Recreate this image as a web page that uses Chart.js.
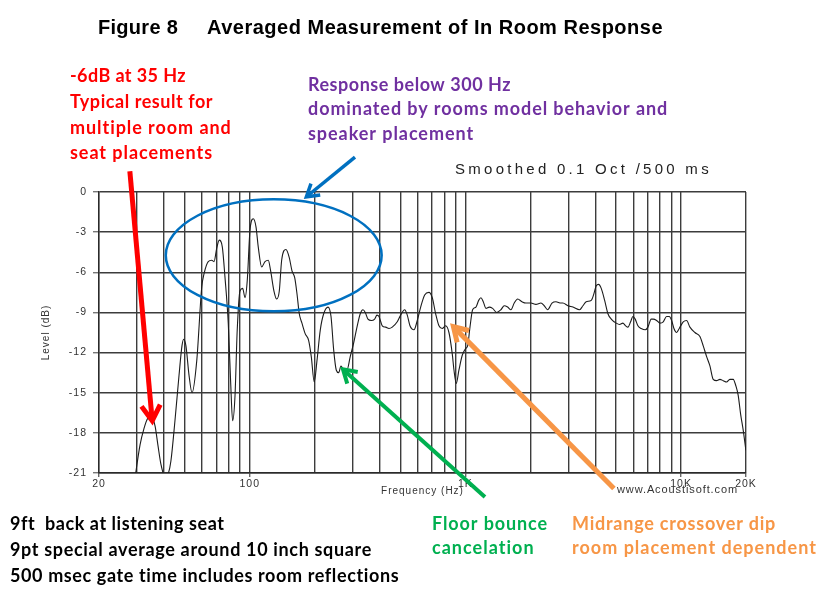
<!DOCTYPE html>
<html>
<head>
<meta charset="utf-8">
<script src="https://cdn.jsdelivr.net/npm/chart.js@4.4.0/dist/chart.umd.min.js"></script>
<style>
html, body { margin: 0; padding: 0; background: #fff; }
#contenedor { width: 830px; height: 602px; position: relative; }
</style>
</head>
<body>
<div id="contenedor"><canvas id="grafica"></canvas></div>
<script>
//datos (frecuencia en Hz, nivel en dB)

const frecuencias = [
    29, 31, 32.3, 33.7, 35, 36.4, 37.5, 38.8, 40.5, 41.8,
    43.1, 45, 47, 48.5, 49.4, 50.6, 52.3, 54, 56.8, 59.9,
    61.4, 64.2, 66.6, 68.3, 70.3, 72.2, 74.6, 76.8, 79.5, 81.6,
    83.3, 85.4, 87.5, 90.1, 92.7, 95.1, 97.4, 100.2, 103.8, 106.9,
    109.5, 113.6, 117.7, 121.9, 125, 129.5, 133.3, 137.1, 140.6, 147.2,
    152.5, 157, 161.6, 165.6, 169.7, 174.6, 180.9, 187.6, 192.9, 199.1,
    205, 212.4, 220.2, 230.6, 238.1, 245, 251.8, 258.4, 264.9, 272.7,
    282.4, 292.4, 303.2, 314.2, 325.4, 335, 343.3, 353.3, 366, 379.4,
    389, 397.4, 411.7, 427, 442.2, 458, 483, 500.9, 522.8, 537.5,
    553.3, 577.4, 598.2, 620.2, 647.2, 677.6, 702, 727.8, 754, 781,
    809.8, 838.8, 869, 885, 907, 933.4, 966.8, 1002, 1024, 1050,
    1080, 1119, 1152, 1180, 1210, 1245, 1290, 1337, 1396, 1461,
    1514, 1570, 1626, 1684, 1747, 1829, 1908, 2013, 2124, 2240,
    2320, 2406, 2520, 2630, 2774, 2832, 2988, 3152, 3386, 3506,
    3632, 3832, 3944, 4042, 4146, 4264, 4422, 4580, 4744, 5004,
    5188, 5374, 5532, 5670, 5834, 5980, 6128, 6308, 6534, 6820,
    7018, 7270, 7428, 7704, 7980, 8266, 8570, 8812, 9040, 9266,
    9536, 9804, 10232, 10610, 10990, 11592, 12228, 12668, 13134, 13606,
    14092, 14614, 15138, 15680, 16256, 16842, 17446, 17960, 18402, 18882,
    19412, 19976
];

const niveles = [
    -22, -18.9, -17.7, -16.9, -16.8, -17.5, -18.9, -20.4, -21.3, -21.1,
    -20.1, -17.1, -13.7, -11.5, -11.0, -11.5, -13.7, -15.0, -12.6, -7.1,
    -6.1, -5.2, -5.1, -5.2, -4.2, -3.6, -4.1, -6.4, -9.8, -14.3,
    -17.1, -15.3, -10.3, -7.4, -7.2, -7.9, -6.6, -2.9, -2.0, -2.6,
    -4.1, -5.6, -5.2, -5.1, -5.9, -7.4, -8.0, -7.4, -5.1, -4.3,
    -4.9, -5.9, -6.4, -7.6, -9.1, -9.8, -10.6, -11.1, -12.3, -14.2,
    -12.6, -10.3, -9.1, -8.6, -9.3, -11.8, -13.3, -13.5, -13.0, -13.3,
    -13.3, -12.3, -11.3, -10.1, -9.1, -8.8, -9.0, -9.5, -9.6, -9.5,
    -9.2, -9.3, -10.0, -10.1, -10.2, -10.1, -9.7, -9.2, -8.8, -9.2,
    -10.0, -10.3, -9.6, -8.6, -7.7, -7.5, -7.9, -9.1, -10.0, -10.2,
    -10.0, -10.5, -12.1, -13.3, -14.3, -13.3, -12.2, -11.7, -11.5, -10.1,
    -8.8, -8.6, -8.1, -7.9, -8.2, -8.7, -8.6, -8.7, -9.0, -8.8,
    -8.5, -8.6, -8.8, -8.3, -8.0, -8.2, -8.3, -8.3, -8.4, -8.3,
    -8.5, -8.8, -8.3, -8.2, -8.3, -8.3, -8.5, -8.6, -8.8, -8.5,
    -8.2, -8.1, -7.6, -7.0, -6.9, -7.2, -8.1, -9.1, -9.5, -9.8,
    -9.9, -9.8, -10.0, -10.1, -9.7, -9.3, -9.5, -10.0, -10.2, -10.3,
    -10.1, -9.5, -9.5, -9.6, -9.8, -9.7, -9.3, -9.3, -9.6, -10.2,
    -10.5, -10.2, -9.7, -9.6, -10.1, -10.5, -10.8, -11.5, -12.3, -13.0,
    -14.0, -14.1, -14.0, -14.1, -14.2, -14.0, -14.0, -14.5, -15.2, -16.6,
    -17.8, -19.3
];

//lineas verticales de la grilla y etiquetas del eje X
const lineasX = [20, 30, 40, 50, 60, 70, 80, 90, 100, 200, 300, 400, 500, 600, 700, 800, 900,
    1000, 2000, 3000, 4000, 5000, 6000, 7000, 8000, 9000, 10000, 20000];
const ticksX = [20, 100, 1000, 10000, 20000];
const etiquetasX = ["20", "100", "1K", "10K", "20K"];

//eje Y
const nivelMin = -21;
const nivelMax = 0;
const pasoY = 3;

const puntos = frecuencias.map((f, i) => { return { x: f, y: niveles[i] }; });

/*
 ****************************************************************************************
 */
function texto(ctx, str, x, y, font, color, ancho) {
    ctx.font = font;
    ctx.fillStyle = color;
    ctx.letterSpacing = "0px";
    if (ancho) {
        const w = ctx.measureText(str).width;
        ctx.letterSpacing = ((ancho - w) / str.length).toFixed(2) + "px";
    }
    ctx.fillText(str, x, y);
    ctx.letterSpacing = "0px";
}

function flecha(ctx, x1, y1, x2, y2, color, grosor, punta) {
    const ang = Math.atan2(y2 - y1, x2 - x1);
    const abre = 0.55;
    ctx.save();
    ctx.strokeStyle = color;
    ctx.lineWidth = grosor;
    ctx.lineCap = "butt";
    ctx.lineJoin = "miter";
    ctx.beginPath();
    ctx.moveTo(x1, y1);
    ctx.lineTo(x2 - Math.cos(ang) * grosor * 0.6, y2 - Math.sin(ang) * grosor * 0.6);
    ctx.stroke();
    ctx.beginPath();
    ctx.moveTo(x2 - punta * Math.cos(ang - abre), y2 - punta * Math.sin(ang - abre));
    ctx.lineTo(x2, y2);
    ctx.lineTo(x2 - punta * Math.cos(ang + abre), y2 - punta * Math.sin(ang + abre));
    ctx.stroke();
    ctx.restore();
}

const notas = {
    id: "notas",
    beforeDraw(chart) {
        const ctx = chart.ctx;
        ctx.save();
        ctx.fillStyle = "#ffffff";
        ctx.fillRect(0, 0, chart.width, chart.height);
        ctx.restore();
        //los textos de los ejes van algo espaciados, como en el original
        ctx.letterSpacing = "1px";
    },
    afterDraw(chart) {
        const ctx = chart.ctx;
        ctx.letterSpacing = "0px";
        const px = (f) => chart.scales.x.getPixelForValue(f);
        const py = (d) => chart.scales.y.getPixelForValue(d);
        ctx.save();
        ctx.textBaseline = "middle";
        ctx.textAlign = "left";

        //titulo
        texto(ctx, "Figure 8", 98, 28, "bold 20px 'Liberation Sans', Arial", "#000", 80);
        texto(ctx, "Averaged Measurement of In Room Response", 207, 28, "bold 20px 'Liberation Sans', Arial", "#000", 456);

        texto(ctx, "Smoothed 0.1 Oct /500 ms", 455, 170, "15px 'Liberation Sans', Arial", "#222", 257);
        texto(ctx, "www.Acoustisoft.com", 617, 490, "11px 'Liberation Sans', Arial", "#333", 121);

        const fuente = "bold 18px Lato, 'Noto Sans', sans-serif";
        texto(ctx, "-6dB at 35 Hz", 70, 76, fuente, "#ff0000", 116);
        texto(ctx, "Typical result for", 70, 102, fuente, "#ff0000", 143);
        texto(ctx, "multiple room and", 70, 128, fuente, "#ff0000", 162);
        texto(ctx, "seat placements", 70, 153, fuente, "#ff0000", 143);

        texto(ctx, "Response below 300 Hz", 308, 85, fuente, "#7030a0", 203);
        texto(ctx, "dominated by rooms model behavior and", 308, 109, fuente, "#7030a0", 360);
        texto(ctx, "speaker placement", 308, 134, fuente, "#7030a0", 166);

        texto(ctx, "9ft  back at listening seat", 10, 524, fuente, "#000", 214);
        texto(ctx, "9pt special average around 10 inch square", 10, 550, fuente, "#000", 362);
        texto(ctx, "500 msec gate time includes room reflections", 10, 576, fuente, "#000", 390);

        texto(ctx, "Floor bounce", 432, 524, fuente, "#00b050", 116);
        texto(ctx, "cancelation", 432, 548, fuente, "#00b050", 103);

        texto(ctx, "Midrange crossover dip", 572, 524, fuente, "#f79646", 204);
        texto(ctx, "room placement dependent", 572, 548, fuente, "#f79646", 245);

        //elipse de la zona modal
        const xa = px(40.8), xb = px(409), ya = py(-0.55), yb = py(-8.92);
        ctx.strokeStyle = "#0070c0";
        ctx.lineWidth = 2.5;
        ctx.beginPath();
        ctx.ellipse((xa + xb) / 2, (ya + yb) / 2, (xb - xa) / 2, (yb - ya) / 2, 0, 0, Math.PI * 2);
        ctx.stroke();

        //flechas
        flecha(ctx, px(27.8), py(1.55), px(35.3), py(-17.1), "#ff0000", 5, 18);
        flecha(ctx, px(307.6), py(2.6), px(183), py(-0.36), "#0070c0", 3.5, 14);
        flecha(ctx, px(1232), py(-22.8), px(270.6), py(-13.25), "#00b050", 4, 15);
        flecha(ctx, px(4882), py(-22.15), px(880), py(-10.07), "#f79646", 5, 16);

        ctx.restore();
    }
};

const chartDOM = document.getElementById("grafica").getContext("2d");

const config = {
    type: "scatter",
    data: {
        datasets: [{
            data: puntos,
            showLine: true,
            borderColor: "#1c1c1c",
            borderWidth: 1.1,
            pointRadius: 0,
            fill: false,
            cubicInterpolationMode: "monotone",
        }, ],
    },
    options: {
        responsive: true,
        maintainAspectRatio: false,
        animation: false,
        layout: { padding: { top: 192, right: 84, left: 0, bottom: 0 } },
        plugins: { legend: { display: false }, tooltip: { enabled: false } },
        scales: {
            x: {
                type: "logarithmic",
                min: 20,
                max: 20000,
                afterBuildTicks: (s) => { s.ticks = lineasX.map((v) => { return { value: v }; }); },
                afterFit: (s) => { s.height = 129; },
                ticks: {
                    autoSkip: false,
                    maxRotation: 0,
                    padding: 1,
                    color: "#333",
                    font: { family: "'Liberation Sans', Arial", size: 10.5 },
                    callback: (v) => { const i = ticksX.indexOf(v); return i >= 0 ? etiquetasX[i] : ""; },
                },
                grid: {
                    color: "#3c3c3c",
                    lineWidth: 1.4,
                    tickLength: 4,
                    tickColor: (c) => (c.tick && ticksX.indexOf(c.tick.value) >= 0 ? "#666" : "rgba(0,0,0,0)"),
                },
                border: { color: "#2a2a2a", width: 1.4 },
                title: {
                    display: true,
                    text: "Frequency (Hz)",
                    color: "#333",
                    font: { family: "'Liberation Sans', Arial", size: 10 },
                    padding: { top: 0, bottom: 105 },
                },
            },
            y: {
                min: nivelMin,
                max: nivelMax,
                afterFit: (s) => { s.width = 99; },
                ticks: {
                    stepSize: pasoY,
                    padding: 6,
                    color: "#333",
                    font: { family: "'Liberation Sans', Arial", size: 10.5 },
                },
                grid: { color: "#3c3c3c", lineWidth: 1.4, tickLength: 6, tickColor: "#777" },
                border: { color: "#2a2a2a", width: 1.4 },
                title: {
                    display: true,
                    text: "Level (dB)",
                    color: "#333",
                    font: { family: "'Liberation Sans', Arial", size: 10 },
                    padding: { top: 40, bottom: 0 },
                },
            },
        },
    },
    plugins: [notas],
};

window.grafica = new Chart(chartDOM, config);
</script>
</body>
</html>
